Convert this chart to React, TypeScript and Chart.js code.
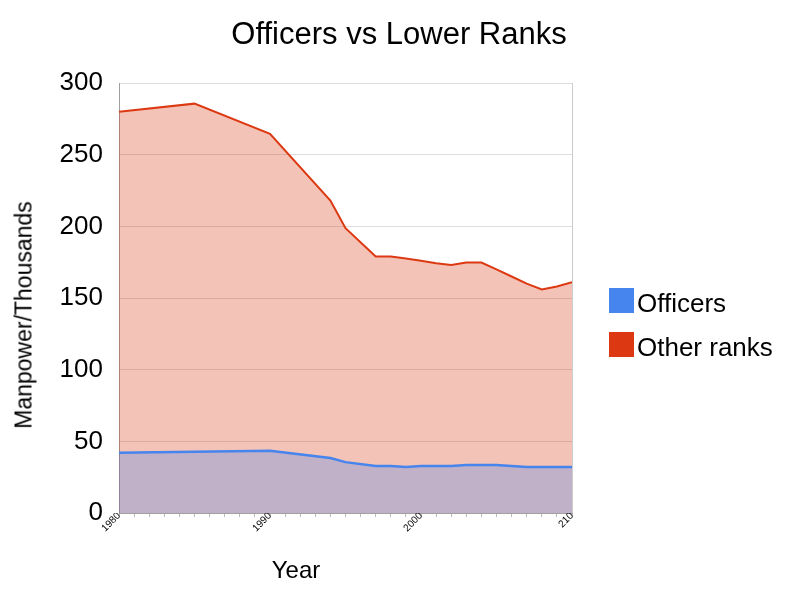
import React, { useEffect, useRef } from "react";
import { Chart, registerables } from "chart.js";

Chart.register(...registerables);

const years = [1980, 1985, 1990, 1994, 1995, 1997, 1998, 1999, 2000, 2001, 2002, 2003, 2004, 2005, 2006, 2007, 2008, 2009, 2010];
const officers = [42, 42.8, 43.5, 38.4, 35.5, 32.8, 32.8, 32.1, 32.8, 32.8, 32.8, 33.5, 33.5, 33.5, 32.8, 32.1, 32.1, 32.1, 32.1];
const otherRanks = [238, 242.8, 221, 179.6, 163.2, 146.1, 146.1, 145.4, 143.2, 141.4, 140.2, 141.2, 141.2, 136.5, 132.2, 127.9, 123.9, 125.9, 128.9];
const yTicks = [0, 50, 100, 150, 200, 250, 300];
const xLabels: Record<number, string> = { 1980: "1980", 1990: "1990", 2000: "2000", 2010: "210" };
const seriesNames = ["Officers", "Other ranks"];
const seriesColors = ["#4684EE", "#DC3912"];
const seriesFills = ["rgba(70,132,238,0.3)", "rgba(220,57,18,0.3)"];

const FONT = "'Liberation Sans', Arial, sans-serif";

export default function App() {
  const ref = useRef<HTMLCanvasElement | null>(null);
  useEffect(() => {
    document.body.style.margin = "0";
    const ctx = ref.current!.getContext("2d")!;
    const chart = new Chart(ctx, {
      type: "line",
      data: {
        datasets: [
          {
            label: seriesNames[0],
            data: years.map((x, i) => ({ x, y: officers[i] })),
            borderColor: seriesColors[0],
            backgroundColor: seriesFills[0],
            fill: "origin",
            borderWidth: 2.5,
            pointRadius: 0,
            tension: 0,
          },
          {
            label: seriesNames[1],
            data: years.map((x, i) => ({ x, y: otherRanks[i] })),
            borderColor: seriesColors[1],
            backgroundColor: seriesFills[1],
            fill: "origin",
            borderWidth: 2,
            pointRadius: 0,
            tension: 0,
          },
        ],
      },
      options: {
        animation: false,
        responsive: false,
        layout: { padding: { left: 0, right: 228, top: 83, bottom: 0 } },
        plugins: {
          title: { display: false },
          legend: { display: false },
          tooltip: { enabled: false },
        },
        scales: {
          x: {
            type: "linear",
            min: 1980,
            max: 2010,
            afterFit: (s: any) => {
              s.height = 87;
            },
            ticks: {
              stepSize: 1,
              autoSkip: false,
              minRotation: 45,
              maxRotation: 45,
              color: "#000",
              font: { family: FONT, size: 10 },
              padding: -7,
              callback: (v: any) => xLabels[v as number] ?? "",
            },
            grid: {
              drawOnChartArea: true,
              color: (c: any) => (c.tick && c.tick.value === 2010 ? "#cccccc" : "rgba(0,0,0,0)"),
              tickColor: "#bbbbbb",
              tickLength: 4,
            },
            border: { color: "#a0a0a0" },
          },
          y: {
            stacked: true,
            min: 0,
            max: 300,
            afterFit: (s: any) => {
              s.width = 119;
            },
            afterBuildTicks: (s: any) => {
              s.ticks = yTicks.map((v) => ({ value: v }));
            },
            ticks: {
              color: "#000",
              font: { family: FONT, size: 26 },
              padding: 16,
            },
            grid: { color: "#dddddd", drawTicks: false },
            border: { color: "#a0a0a0" },
          },
        },
      },
    });
    return () => chart.destroy();
  }, []);

  const text: React.CSSProperties = {
    position: "absolute",
    fontFamily: FONT,
    color: "#000",
    lineHeight: 1,
    whiteSpace: "nowrap",
  };

  return (
    <div style={{ position: "absolute", left: 0, top: 0, width: 800, height: 600, background: "#fff", overflow: "hidden" }}>
      <canvas ref={ref} width={800} height={600} style={{ position: "absolute", left: 0, top: 0 }} />
      <div style={{ ...text, fontSize: 31, left: 0, width: 798, top: 18, textAlign: "center" }}>Officers vs Lower Ranks</div>
      <div
        style={{
          ...text,
          fontSize: 23,
          left: 24,
          top: 315,
          transform: "translate(-50%, -50%) rotate(-90deg)",
        }}
      >
        Manpower/Thousands
      </div>
      <div style={{ ...text, fontSize: 24, left: 296, top: 558, transform: "translateX(-50%)" }}>Year</div>
      {seriesNames.map((name, i) => (
        <React.Fragment key={name}>
          <div
            style={{
              position: "absolute",
              left: 609,
              top: 288 + i * 44,
              width: 25,
              height: 25,
              background: seriesColors[i],
            }}
          />
          <div style={{ ...text, fontSize: 26, left: 637, top: 290 + i * 44 }}>{name}</div>
        </React.Fragment>
      ))}
    </div>
  );
}
